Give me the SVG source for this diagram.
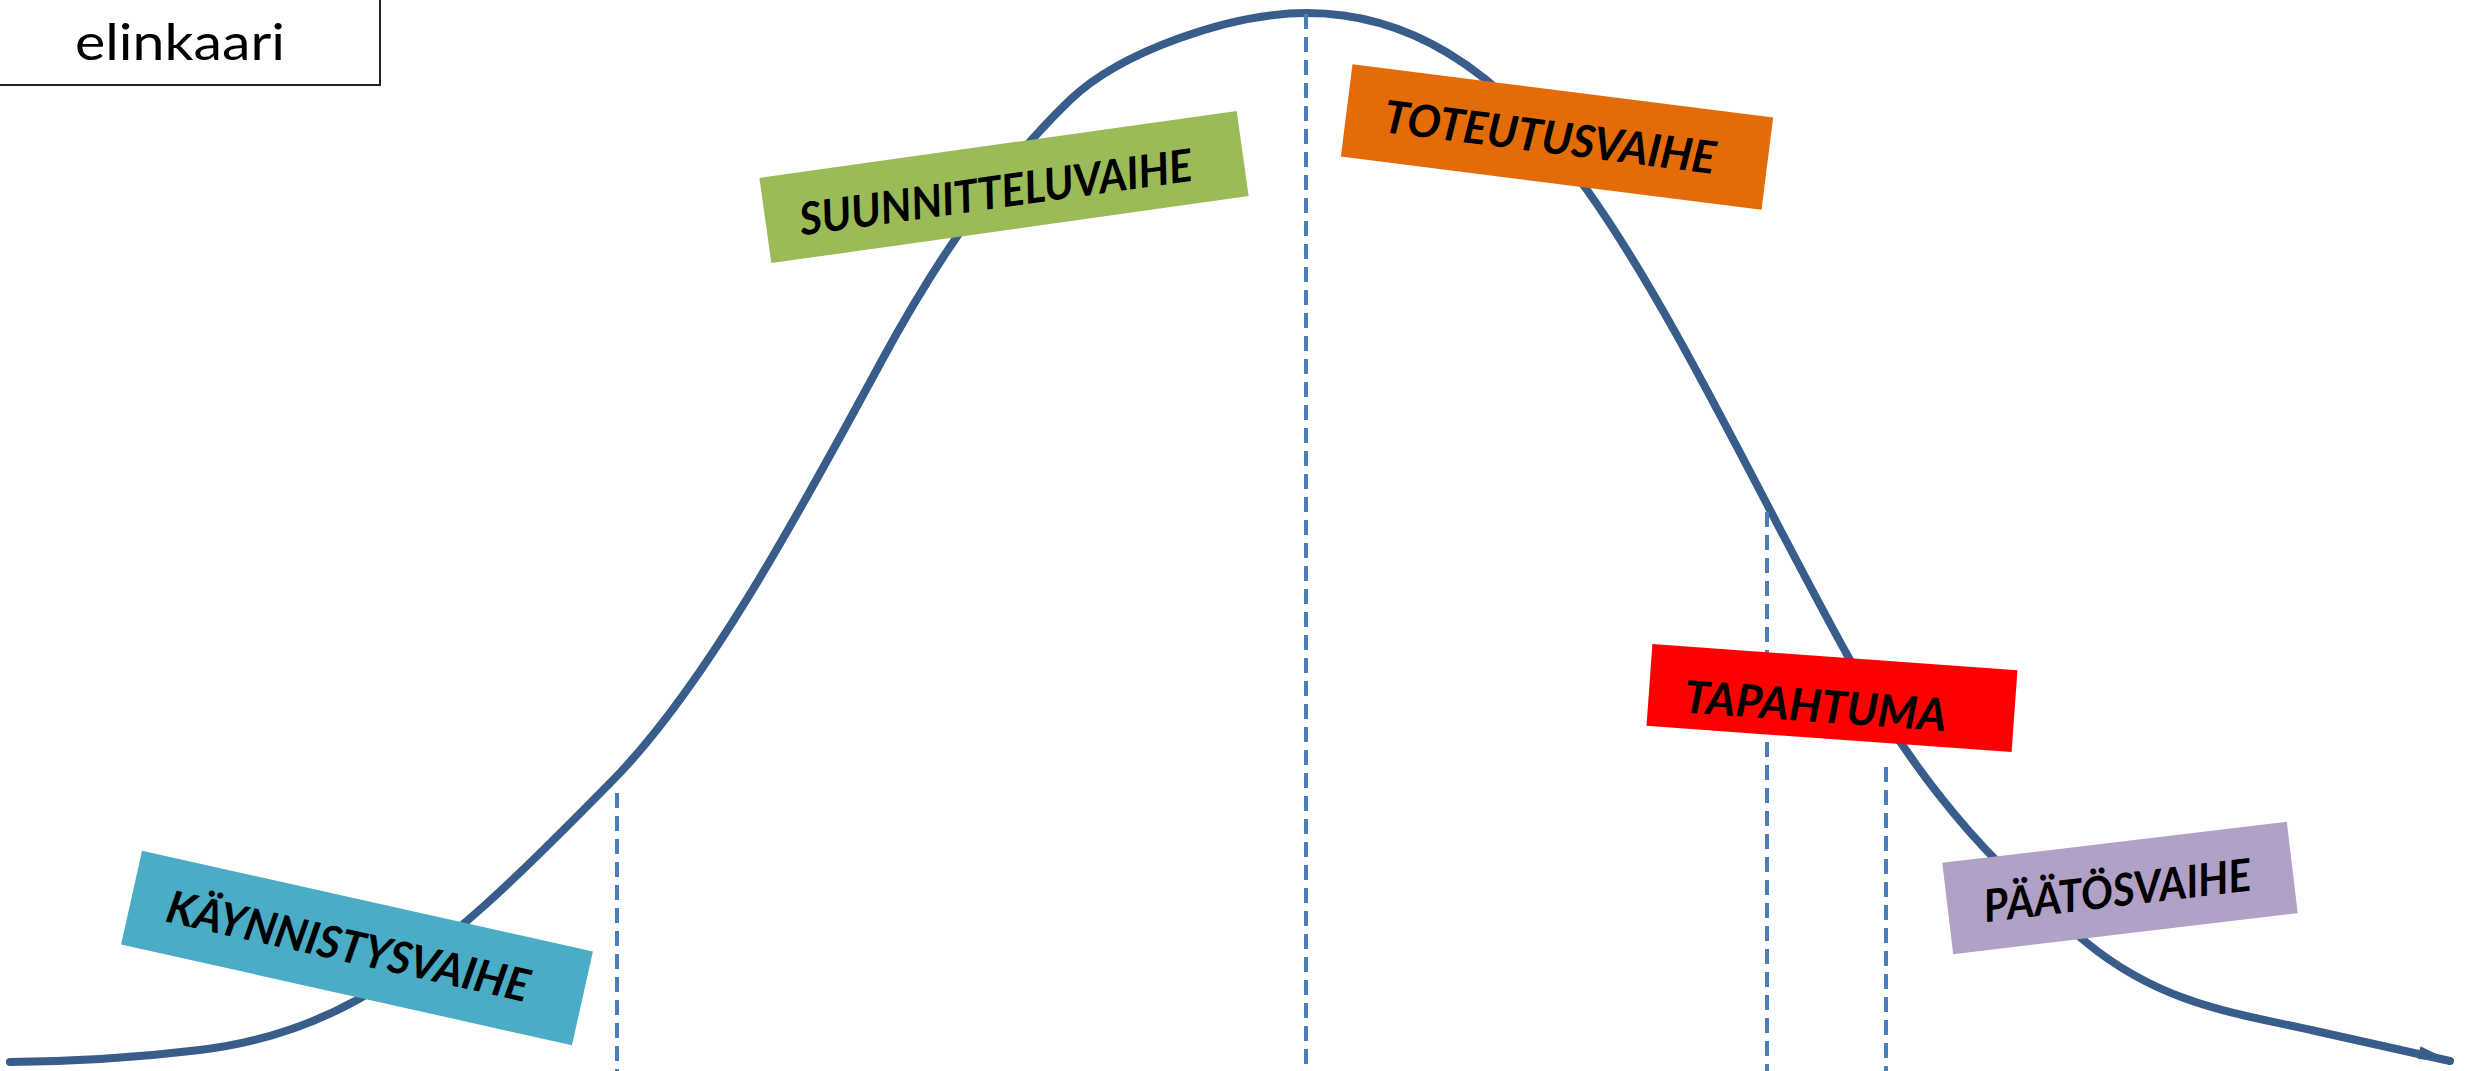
<svg xmlns="http://www.w3.org/2000/svg" width="2468" height="1071" viewBox="0 0 2468 1071">
<style>
.lbl{font-family:Lato,"Open Sans","Liberation Sans",sans-serif;font-weight:bold;font-style:italic;font-size:45px;fill:#000;text-anchor:middle}
.title{font-family:Lato,"Open Sans","Liberation Sans",sans-serif;font-size:50px;fill:#000}
.dash{stroke:#4A7EBB;stroke-width:4;stroke-dasharray:15 8;fill:none}
.curve{stroke:#385D8A;stroke-width:8;fill:none;stroke-linecap:round}
</style>
<defs>
<marker id="arr" markerUnits="userSpaceOnUse" markerWidth="40" markerHeight="20" viewBox="-32 -10 40 20" refX="2" refY="0" orient="auto">
<path d="M-30,-8 L4,0 L-30,5 Z" fill="#385D8A"/>
</marker>
</defs>
<rect width="2468" height="1071" fill="#fff"/>
<g id="connectors">
<path class="curve" marker-end="url(#arr)" d="M10,1062 C73.3,1061.4 136.7,1057.6 200,1050 C252.3,1043.7 304.7,1028.8 357,1000 C442.7,952.9 528.3,866.4 614,779 C703,688.2 792,526.7 881,362 C944,245.5 1007,160.5 1070,100 C1120,52 1230,13 1307,13 C1400.3,13 1493.7,59.4 1587,190 C1674.7,312.8 1762.3,502.1 1850,660 C1929,802.2 2008,878.2 2087,943 C2164.7,1006.7 2242.3,1014.1 2320,1032 C2363.3,1042 2406.7,1051.5 2450,1061"/>
<line class="dash" x1="617" y1="793" x2="617" y2="1071"/>
<line class="dash" x1="1306" y1="14" x2="1306" y2="1071"/>
<line class="dash" x1="1767" y1="512" x2="1767" y2="1071"/>
<line class="dash" x1="1886" y1="767" x2="1886" y2="1071"/>
</g>
<g id="title">
<rect x="-5" y="-5" width="385" height="90" fill="#fff" stroke="#222" stroke-width="2"/>
<text class="title" x="75" y="60" textLength="210" lengthAdjust="spacingAndGlyphs">elinkaari</text>
</g>
<g id="kaynnistysvaihe" transform="translate(357,948) rotate(12.6)">
<rect x="-231" y="-48" width="462" height="96" fill="#4BACC6"/>
<text class="lbl" x="-9" y="16" textLength="370" lengthAdjust="spacingAndGlyphs">KÄYNNISTYSVAIHE</text>
</g>
<g id="suunnitteluvaihe" transform="translate(1004,187) rotate(-8)">
<rect x="-241" y="-43" width="482" height="86" fill="#9BBB59"/>
<text class="lbl" x="-9" y="20" textLength="396" lengthAdjust="spacingAndGlyphs">SUUNNITTELUVAIHE</text>
</g>
<g id="toteutusvaihe" transform="translate(1557,137) rotate(7.2)">
<rect x="-212" y="-46.5" width="424" height="93" fill="#E36C09"/>
<text class="lbl" x="-7" y="17" textLength="334" lengthAdjust="spacingAndGlyphs">TOTEUTUSVAIHE</text>
</g>
<g id="tapahtuma" transform="translate(1832,698) rotate(4.1)">
<rect x="-183" y="-41" width="366" height="82" fill="#FF0000"/>
<text class="lbl" x="-16" y="25" textLength="263" lengthAdjust="spacingAndGlyphs">TAPAHTUMA</text>
</g>
<g id="paatosvaihe" transform="translate(2120,888) rotate(-6.8)">
<rect x="-173.5" y="-46" width="347" height="92" fill="#B2A1C7"/>
<text class="lbl" x="-3" y="18" textLength="269" lengthAdjust="spacingAndGlyphs">PÄÄTÖSVAIHE</text>
</g>
</svg>
